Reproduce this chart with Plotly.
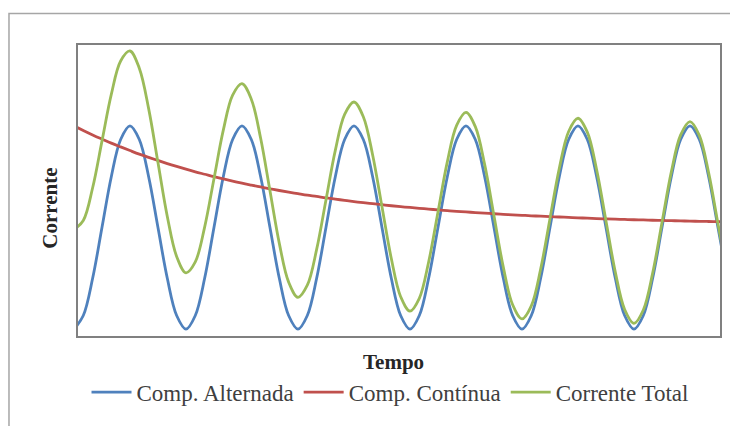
import plotly.graph_objects as go

# Time samples (one twelfth of an AC period each)
tempo = [k / 12 for k in range(71)]

comp_alternada = [-1.0, -0.866, -0.5, 0.0, 0.5, 0.866, 1.0, 0.866, 0.5, 0.0, -0.5, -0.866,
                  -1.0, -0.866, -0.5, 0.0, 0.5, 0.866, 1.0, 0.866, 0.5, 0.0, -0.5, -0.866,
                  -1.0, -0.866, -0.5, 0.0, 0.5, 0.866, 1.0, 0.866, 0.5, 0.0, -0.5, -0.866,
                  -1.0, -0.866, -0.5, 0.0, 0.5, 0.866, 1.0, 0.866, 0.5, 0.0, -0.5, -0.866,
                  -1.0, -0.866, -0.5, 0.0, 0.5, 0.866, 1.0, 0.866, 0.5, 0.0, -0.5, -0.866,
                  -1.0, -0.866, -0.5, 0.0, 0.5, 0.866, 1.0, 0.866, 0.5, 0.0, -0.5]

comp_continua = [1.000, 0.955, 0.911, 0.870, 0.830, 0.793, 0.757, 0.722, 0.690, 0.659, 0.629, 0.601,
                 0.574, 0.548, 0.524, 0.500, 0.478, 0.457, 0.436, 0.417, 0.399, 0.381, 0.364, 0.348,
                 0.333, 0.318, 0.305, 0.291, 0.279, 0.267, 0.255, 0.244, 0.234, 0.224, 0.214, 0.205,
                 0.197, 0.189, 0.181, 0.173, 0.166, 0.159, 0.153, 0.147, 0.141, 0.135, 0.130, 0.125,
                 0.120, 0.115, 0.111, 0.107, 0.103, 0.099, 0.095, 0.092, 0.088, 0.085, 0.082, 0.079,
                 0.076, 0.074, 0.071, 0.069, 0.067, 0.065, 0.062, 0.061, 0.059, 0.057, 0.055]

corrente_total = [-0.020, 0.069, 0.391, 0.850, 1.310, 1.638, 1.737, 1.568, 1.170, 0.639, 0.109, -0.285,
                  -0.446, -0.338, 0.004, 0.480, 0.958, 1.303, 1.416, 1.263, 0.878, 0.361, -0.156, -0.538,
                  -0.687, -0.568, -0.216, 0.271, 0.759, 1.113, 1.235, 1.090, 0.714, 0.204, -0.306, -0.681,
                  -0.823, -0.697, -0.339, 0.153, 0.646, 1.005, 1.133, 0.993, 0.621, 0.115, -0.390, -0.761,
                  -0.900, -0.771, -0.409, 0.087, 0.583, 0.945, 1.075, 0.938, 0.568, 0.065, -0.438, -0.807,
                  -0.944, -0.812, -0.449, 0.049, 0.547, 0.911, 1.042, 0.907, 0.539, 0.037, -0.465]

series_names = ["Comp. Alternada", "Comp. Contínua", "Corrente Total"]
series_colors = ["#4F81BD", "#C0504D", "#9BBB59"]

serif = "Liberation Serif, Times New Roman, serif"

fig = go.Figure()
for name, vals, col in zip(series_names, [comp_alternada, comp_continua, corrente_total], series_colors):
    fig.add_trace(go.Scatter(x=tempo, y=vals, mode="lines", name=name,
                             line=dict(color=col, width=2.8, shape="spline", smoothing=1.0)))

fig.update_layout(
    width=730, height=418,
    margin=dict(l=70, r=18, t=37, b=86),
    paper_bgcolor="white", plot_bgcolor="white",
    showlegend=True,
    legend=dict(orientation="h", x=0.486, xanchor="center", y=-0.193, yanchor="middle",
                font=dict(family=serif, size=23, color="#404040"),
                itemwidth=40, tracegroupgap=0),
    font=dict(family=serif),
)
fig.update_xaxes(range=[0.036, 5.768], showticklabels=False, ticks="", showgrid=False,
                 zeroline=False, showline=True, mirror=True, linecolor="#808080", linewidth=2)
fig.update_yaxes(range=[-1.068, 1.796], showticklabels=False, ticks="", showgrid=False,
                 zeroline=False, showline=True, mirror=True, linecolor="#808080", linewidth=2)

# axis titles
fig.add_annotation(text="<b>Tempo</b>", xref="paper", yref="paper", x=0.492, y=-0.088,
                   xanchor="center", yanchor="middle", showarrow=False,
                   font=dict(family=serif, size=21, color="#262626"))
fig.add_annotation(text="<b>Corrente</b>", xref="paper", yref="paper", x=-0.044, y=0.44,
                   xanchor="center", yanchor="middle", showarrow=False, textangle=-90,
                   font=dict(family=serif, size=21, color="#262626"))

# outer chart frame (top and left edges visible)
fig.add_shape(type="rect", xref="paper", yref="paper", x0=-0.1075, x1=1.05, y0=-0.35, y1=1.108,
              line=dict(color="#A6A6A6", width=1.5), layer="below")

fig.write_html("out.html")
